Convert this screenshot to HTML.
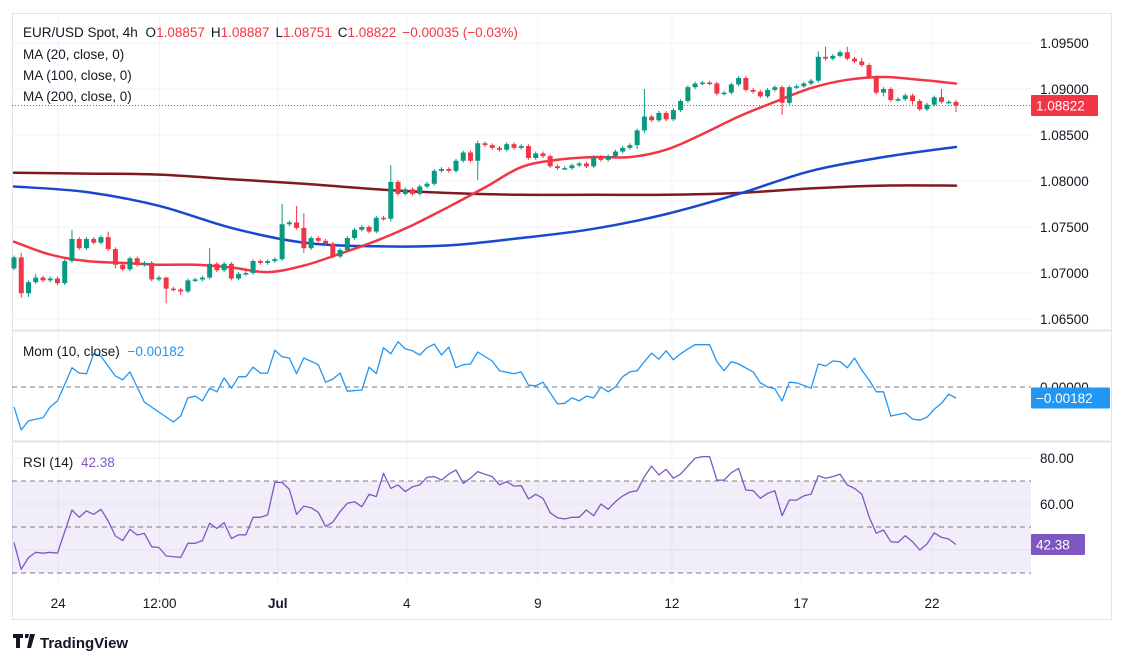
<!DOCTYPE html>
<html><head><meta charset="utf-8"><style>
html,body{margin:0;padding:0;background:#fff;width:1126px;height:664px;overflow:hidden}
svg{display:block;font-family:"Liberation Sans",sans-serif}
</style></head><body>
<svg id="chart" width="1126" height="664" viewBox="0 0 1126 664" xmlns="http://www.w3.org/2000/svg">
<rect x="12.5" y="13.5" width="1099" height="606" fill="#fff" stroke="#e0e3eb"/>
<g id="grid"></g>
<g id="rsiBand"></g>
<g id="ma"></g>
<g id="candles"></g>
<g id="mom"></g>
<g id="rsi"></g>
<g id="axes"></g>
<line x1="12" y1="330.5" x2="1112" y2="330.5" stroke="#e0e3eb" stroke-width="2"/>
<line x1="12" y1="441.5" x2="1112" y2="441.5" stroke="#e0e3eb" stroke-width="2"/>
<g font-size="13.5" fill="#131722">
<text x="23" y="37">EUR/USD Spot, 4h <tspan dx="4">O</tspan><tspan fill="#f23645">1.08857</tspan><tspan dx="6">H</tspan><tspan fill="#f23645">1.08887</tspan><tspan dx="6">L</tspan><tspan fill="#f23645">1.08751</tspan><tspan dx="6">C</tspan><tspan fill="#f23645">1.08822</tspan><tspan dx="6" fill="#f23645">−0.00035 (−0.03%)</tspan></text>
<text x="23" y="59">MA (20, close, 0)</text>
<text x="23" y="80">MA (100, close, 0)</text>
<text x="23" y="101">MA (200, close, 0)</text>
<text x="23" y="356">Mom (10, close) <tspan dx="4" fill="#2196f3">−0.00182</tspan></text>
<text x="23" y="467">RSI (14) <tspan dx="4" fill="#7e57c2">42.38</tspan></text>
</g>
<g>
<path d="M13 634h10v4h-3v10h-4v-10h-3z M25 634h4l-1 4h-3z M30 634h5l-4 14h-4z" fill="#131722"/>
<text x="40" y="648" font-size="15" font-weight="bold" fill="#131722">TradingView</text>
</g>
</svg>
<script>
const closes=[1.0717,1.0678,1.0690,1.0695,1.0692,1.0694,1.0689,1.0713,1.0737,1.0727,1.0737,1.0733,1.0739,1.0726,1.0709,1.0704,1.0716,1.0709,1.0711,1.0693,1.0695,1.0683,1.0682,1.0680,1.0692,1.0693,1.0695,1.0710,1.0703,1.0710,1.0694,1.0699,1.0700,1.0713,1.0711,1.0713,1.0715,1.0753,1.0755,1.0749,1.0727,1.0738,1.0735,1.0732,1.0718,1.0725,1.0738,1.0747,1.0750,1.0745,1.0760,1.0759,1.0799,1.0786,1.0791,1.0786,1.0794,1.0797,1.0811,1.0813,1.0811,1.0822,1.0831,1.0822,1.0841,1.0839,1.0836,1.0834,1.0840,1.0836,1.0838,1.0825,1.0830,1.0827,1.0816,1.0814,1.0814,1.0817,1.0819,1.0816,1.0826,1.0823,1.0827,1.0832,1.0836,1.0839,1.0855,1.0870,1.0866,1.0874,1.0867,1.0877,1.0887,1.0902,1.0906,1.0907,1.0906,1.0895,1.0896,1.0905,1.0912,1.0899,1.0897,1.0892,1.0899,1.0902,1.0885,1.0902,1.0903,1.0906,1.0909,1.0935,1.0933,1.0936,1.0940,1.0933,1.0930,1.0926,1.0913,1.0896,1.0900,1.0888,1.0889,1.0893,1.0887,1.0878,1.0883,1.0891,1.0886,1.0886,1.0882];
const firstOpen=1.0705;
const wickUp=[2,5,2,4,2,2,2,2,10,2,2,2,2,6,2,2,2,2,2,2,2,1,2,2,2,2,2,17,2,2,2,2,2,2,2,2,2,22,2,18,16,2,2,2,2,2,2,2,2,2,2,2,18,2,2,2,2,2,2,2,2,2,2,2,3,2,2,2,2,2,2,2,2,2,2,2,2,2,2,2,2,2,2,2,2,2,2,30,2,2,2,2,2,2,2,2,2,2,2,2,2,2,2,2,2,2,2,2,2,2,2,6,11,2,2,6,2,4,2,2,2,2,2,2,2,2,2,2,9,2,2];
const wickDn=[2,5,4,2,2,2,2,2,2,2,2,2,2,2,4,2,2,2,2,2,2,16,2,4,2,2,2,2,2,2,2,2,2,2,2,2,2,2,2,2,5,2,2,2,2,2,2,2,2,2,2,2,3,2,2,2,2,2,2,2,2,2,2,2,21,2,2,2,2,2,2,2,2,2,2,2,2,2,2,2,2,2,2,2,2,2,4,3,2,2,2,2,2,2,2,2,2,2,2,2,2,2,2,2,2,2,13,2,2,2,2,2,2,2,2,2,2,2,2,2,4,2,2,2,4,2,2,2,2,2,7];
const ma20Idx=[0,5,10,15,20,25,30,35,40,45,50,55,60,65,70,75,80,85,90,95,100,105,110,115,120,125,130];
const ma20=[1.0734,1.0720,1.0713,1.0711,1.0709,1.0709,1.0706,1.0701,1.0708,1.0721,1.0735,1.0752,1.0772,1.0793,1.0815,1.0823,1.0826,1.0826,1.0834,1.0851,1.0870,1.0886,1.0901,1.0910,1.0913,1.0910,1.0906];
const maIdx=[0,10,20,30,40,50,60,70,80,90,100,110,120,130];
const ma100=[1.0794,1.0788,1.0773,1.0749,1.0733,1.0729,1.0730,1.0738,1.0748,1.0764,1.0786,1.0811,1.0826,1.0837];
const ma200=[1.0809,1.0808,1.0807,1.0802,1.0797,1.0791,1.0787,1.0785,1.0785,1.0785,1.0787,1.0792,1.0795,1.0795];
const momIdx=[0,1,2,4,5,6,8,9,10,11,12,14,15,16,18,22,23,24,25,26,27,28,29,30,31,32,33,34,35,36,37,38,39,40,42,43,44,45,46,48,49,50,51,52,53,54,55,56,57,58,59,60,61,62,63,64,66,67,69,70,71,72,73,75,76,77,78,79,80,81,82,83,84,85,86,87,88,89,90,91,92,93,94,96,97,98,99,100,102,103,104,105,106,107,108,110,111,112,113,114,115,116,117,118,119,120,121,123,124,125,126,127,128,129,130];
const momVals=[-0.0033,-0.0071,-0.0056,-0.0051,-0.0033,-0.0023,0.0032,0.0023,0.0022,0.0055,0.0051,0.0018,0.0012,0.0025,-0.0025,-0.0058,-0.0048,-0.0018,-0.0015,-0.0023,-0.0002,-0.0008,0.0015,-0.0002,0.0017,0.0017,0.0033,0.0023,0.0023,0.0061,0.0050,0.0048,0.0022,0.0048,0.0037,0.0008,0.0013,0.0023,-0.0007,-0.0005,0.0033,0.0022,0.0065,0.0055,0.0075,0.0063,0.0060,0.0053,0.0065,0.0071,0.0053,0.0066,0.0032,0.0037,0.0038,0.0058,0.0043,0.0027,0.0022,0.0025,0.0003,0.0002,0.0008,-0.0028,-0.0027,-0.0018,-0.0023,-0.0015,-0.0018,0,-0.0008,0,0.0017,0.0025,0.0027,0.0042,0.0056,0.0046,0.0060,0.0045,0.0055,0.0063,0.0070,0.0070,0.0042,0.0027,0.0042,0.0038,0.0025,0.0007,0,-0.0003,-0.0023,0.0008,0.0007,-0.0002,0.0038,0.0035,0.0043,0.0042,0.0032,0.0048,0.0028,0.0012,-0.0008,-0.0008,-0.0048,-0.0043,-0.0053,-0.0055,-0.0050,-0.0037,-0.0027,-0.0012,-0.00182];
const rsiIdx=[0,1,2,3,4,5,6,8,9,10,11,12,13,14,15,16,17,18,19,20,21,23,24,25,26,27,28,29,30,31,32,33,34,35,36,37,38,39,40,41,42,43,44,45,46,47,48,49,50,51,52,53,54,55,56,57,58,59,60,61,62,63,64,65,66,67,68,69,70,71,72,73,74,75,76,77,78,79,80,81,82,83,84,85,86,87,88,89,90,91,92,93,94,95,96,97,98,99,100,101,102,103,104,105,106,107,108,109,110,111,112,113,114,115,116,117,118,119,120,121,122,123,124,125,126,127,128,129,130];
const rsiVals=[43.3,31.6,36.7,39.0,38.6,39.0,38.6,57.4,54.2,57.0,55.5,57.7,52.6,46.1,44.1,49.0,46.5,47.2,41.4,41.1,37.4,36.8,42.9,42.9,44.1,51.6,49.4,51.9,45.0,46.6,46.6,54.2,54.2,55.2,69.4,69.4,66.4,55.5,59.1,58.4,56.4,50.2,52.1,56.7,60.3,61.0,58.8,64.2,63.2,73.3,66.8,68.3,65.4,67.5,68.3,71.6,71.9,70.4,73.0,74.8,69.0,71.2,74.1,72.9,71.9,68.3,69.7,67.8,68.0,62.2,64.2,62.5,56.2,54.0,53.5,54.2,54.2,57.4,54.9,60.0,57.7,61.0,63.5,65.2,65.8,71.9,76.5,72.6,75.1,71.2,73.0,76.5,79.9,80.6,80.6,70.4,70.4,73.6,75.5,66.1,65.8,62.5,64.6,65.8,54.9,61.7,61.7,63.5,64.3,72.3,71.2,71.9,73.0,68.3,66.8,64.3,54.5,47.3,48.7,43.6,43.3,46.2,43.6,40.0,42.6,47.5,45.5,44.8,42.4];
const priceTicks=["1.09500","1.09000","1.08500","1.08000","1.07500","1.07000","1.06500"];
const rsiTicks=["80.00","60.00"];
const timeLabels=["24","12:00","Jul","4","9","12","17","22"];
const timeIdx=[6.1,20.1,36.4,54.2,72.3,90.8,108.6,126.7];

const NS="http://www.w3.org/2000/svg";
const X0=14,STEP=7.246,PLOT_R=1031;
function xAt(i){return X0+i*STEP;}
function yPrice(p){return 43+(1.095-p)/0.005*46;}
function yMom(v){return 387-v/0.001*6.04;}
function yRsi(v){return 458+(80-v)*2.3;}
function mk(tag,attrs,parent){const e=document.createElementNS(NS,tag);for(const k in attrs)e.setAttribute(k,attrs[k]);parent.appendChild(e);return e;}
const grid=document.getElementById('grid');
priceTicks.forEach(t=>{const y=yPrice(parseFloat(t));
 const l=mk('line',{x1:12,x2:PLOT_R,y1:y,y2:y,stroke:'#f0f3fa'},grid);
 
 });
[80,60,40].forEach(v=>{const y=yRsi(v);const l=mk('line',{x1:12,x2:PLOT_R,y1:y,y2:y,stroke:'#f0f3fa'},grid);
 
 });
timeIdx.forEach(i=>{const x=xAt(i);const l=mk('line',{x1:x,x2:x,y1:14,y2:585,stroke:'#f0f3fa'},grid);
 
 });
const band=document.getElementById('rsiBand');
const br=mk('rect',{x:12,y:yRsi(70),width:PLOT_R-12,height:yRsi(30)-yRsi(70),fill:'#7e57c2','fill-opacity':0.1},band);


const maG=document.getElementById('ma');
function smooth(idx,vals,yf,color,w,parent,name){
 const P=idx.map((i,k)=>[xAt(i),yf(vals[k])]);
 let d='M'+P[0][0].toFixed(1)+','+P[0][1].toFixed(1);
 for(let k=0;k<P.length-1;k++){const p0=P[Math.max(0,k-1)],p1=P[k],p2=P[k+1],p3=P[Math.min(P.length-1,k+2)];
  const c1=[p1[0]+(p2[0]-p0[0])/6,p1[1]+(p2[1]-p0[1])/6],c2=[p2[0]-(p3[0]-p1[0])/6,p2[1]-(p3[1]-p1[1])/6];
  d+=' C'+c1.map(v=>v.toFixed(1)).join(',')+' '+c2.map(v=>v.toFixed(1)).join(',')+' '+p2.map(v=>v.toFixed(1)).join(',');}
 const p=mk('path',{d:d,fill:'none',stroke:color,'stroke-width':w,'stroke-linecap':'round'},parent);
 
 return p;}
function poly(idx,vals,yf,color,w,parent,name){const pts=idx.map((i,k)=>xAt(i).toFixed(1)+','+yf(vals[k]).toFixed(1)).join(' ');
 const p=mk('polyline',{points:pts,fill:'none',stroke:color,'stroke-width':w,'stroke-linejoin':'round'},parent);
 
 return p;}
smooth(maIdx,ma200,yPrice,'#801922',2.5,maG,'ma200-line');
smooth(maIdx,ma100,yPrice,'#1848cc',2.5,maG,'ma100-line');
smooth(ma20Idx,ma20,yPrice,'#f23645',2.5,maG,'ma20-line');
const cg=document.getElementById('candles');
closes.forEach((c,i)=>{const o=i===0?firstOpen:closes[i-1];const up=c>=o;const col=up?'#089981':'#f23645';
 const hi=Math.max(o,c)+wickUp[i]*0.0001,lo=Math.min(o,c)-wickDn[i]*0.0001;const x=xAt(i);
 const w=mk('line',{x1:x,x2:x,y1:yPrice(hi),y2:yPrice(lo),stroke:col,'stroke-width':1},cg);
 
 
 const yt=yPrice(Math.max(o,c)),yb=yPrice(Math.min(o,c));
 const b=mk('rect',{x:x-2.5,y:yt,width:5,height:Math.max(1.5,yb-yt),fill:col},cg);
 
 });
const cp=closes[closes.length-1];
const cl=mk('line',{x1:12,x2:PLOT_R,y1:yPrice(cp),y2:yPrice(cp),stroke:'#f23645','stroke-dasharray':'1,2'},cg);


const mg=document.getElementById('mom');
const z=mk('line',{x1:12,x2:PLOT_R,y1:yMom(0),y2:yMom(0),stroke:'#787b86','stroke-dasharray':'5,4'},mg);


poly(momIdx,momVals,yMom,'#2196f3',1.3,mg,'momentum-line');
const rg=document.getElementById('rsi');
[70,50,30].forEach(v=>{const l=mk('line',{x1:12,x2:PLOT_R,y1:yRsi(v),y2:yRsi(v),stroke:'#787b86','stroke-dasharray':'5,4'},rg);
 
 });
poly(rsiIdx,rsiVals,yRsi,'#7e57c2',1.3,rg,'rsi-line');
const ax=document.getElementById('axes');
function txt(s,x,y,attrs,name,inter){const t=mk('text',Object.assign({x:x,y:y,'font-size':13.5,fill:'#131722'},attrs||{}),ax);t.textContent=s;
 
 return t;}
priceTicks.forEach(t=>txt(t,1040,yPrice(parseFloat(t))+5,null,'price-tick-label',false));
rsiTicks.forEach(t=>txt(t,1040,yRsi(parseFloat(t))+5,null,'rsi-tick-label',false));
txt("0.00000",1040,yMom(0)+5,null,'mom-tick-label',false);
timeLabels.forEach((t,k)=>txt(t,xAt(timeIdx[k]),608,{'text-anchor':'middle','font-weight':t==='Jul'?'bold':'normal'},'time-tick-label',false));
function badge(s,y,w,col,name){const r=mk('rect',{x:1031,y:y-10.5,width:w,height:21,fill:col,rx:1},ax);
 
 
 txt(s,1036,y+5,{fill:'#fff'},name,false);}
badge('1.08822',yPrice(cp),67,'#f23645','last-price-label');
badge('−0.00182',yMom(momVals[momVals.length-1]),79,'#2196f3','mom-last-label');
badge('42.38',yRsi(rsiVals[rsiVals.length-1]),54,'#7e57c2','rsi-last-label');
</script>
</body></html>
